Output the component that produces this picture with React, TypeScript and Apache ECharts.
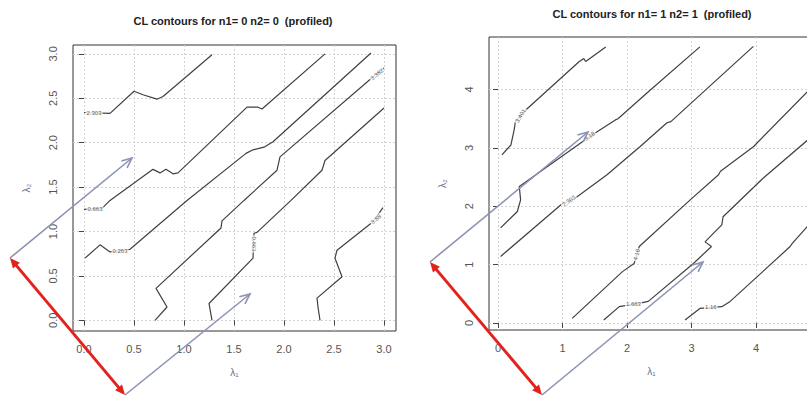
import React, { useEffect, useRef } from 'react';
import * as echarts from 'echarts';

// ---------- data ----------
const titles = ['CL contours for n1= 0 n2= 0  (profiled)', 'CL contours for n1= 1 n2= 1  (profiled)'];
const leftTicks = [0, 0.5, 1, 1.5, 2, 2.5, 3];
const rightTicks = [0, 1, 2, 3, 4];

// left panel contours (lambda1, lambda2)
const leftA = [[0, 2.34], [0.26, 2.33], [0.5, 2.58], [0.59, 2.54], [0.73, 2.49], [0.79, 2.52], [1.28, 2.99]];
const leftB = [[0, 1.25], [0.18, 1.26], [0.26, 1.35], [0.69, 1.7], [0.76, 1.66], [0.82, 1.7], [0.89, 1.65], [0.94, 1.66], [1.63, 2.4], [1.74, 2.4], [1.78, 2.38], [2.41, 3.0]];
const leftC = [[0.01, 0.7], [0.16, 0.85], [0.26, 0.77], [0.46, 0.8], [1.03, 1.35], [1.62, 1.88], [1.69, 1.92], [1.8, 1.95], [1.89, 2.01], [2.87, 3.01]];
const leftD = [[0.71, 0.0], [0.83, 0.15], [0.72, 0.36], [1.37, 1.04], [1.38, 1.12], [1.6, 1.35], [1.93, 1.69], [1.96, 1.84], [2.93, 2.78], [3.0, 2.84]];
const leftE = [[1.28, 0.0], [1.25, 0.19], [1.69, 0.7], [1.7, 0.98], [1.73, 0.99], [2.07, 1.35], [2.38, 1.69], [2.41, 1.8], [3.0, 2.39]];
const leftF = [[2.36, 0.0], [2.34, 0.15], [2.33, 0.25], [2.58, 0.49], [2.51, 0.7], [2.53, 0.79], [2.89, 1.11], [2.99, 1.27]];

// right panel contours
const rightA = [[0.06, 2.88], [0.2, 3.05], [0.25, 3.31], [0.27, 3.45], [0.43, 3.65], [1.26, 4.48], [1.33, 4.53], [1.36, 4.48], [1.67, 4.73]];
const rightB = [[0.04, 1.63], [0.3, 1.91], [0.35, 2.11], [0.33, 2.34], [1.44, 3.21], [1.82, 3.48], [1.86, 3.5], [2.34, 3.97], [3.13, 4.73]];
const rightC = [[0.04, 1.14], [0.99, 2.04], [1.2, 2.14], [1.69, 2.54], [2.2, 3.02], [2.62, 3.43], [2.68, 3.45], [3.96, 4.74]];
const rightD = [[1.15, 0.08], [1.93, 0.88], [2.11, 1.02], [2.19, 1.31], [2.98, 2.11], [3.42, 2.54], [3.45, 2.6], [3.96, 3.02], [4.85, 4.02]];
const rightE = [[1.64, 0.05], [1.88, 0.28], [2.2, 0.34], [2.33, 0.37], [3.03, 1.02], [3.31, 1.31], [3.21, 1.39], [3.29, 1.48], [3.47, 1.68], [3.49, 1.82], [4.11, 2.48], [4.85, 3.18]];
const rightF = [[2.9, 0.05], [3.13, 0.25], [3.47, 0.28], [3.6, 0.37], [4.53, 1.31], [4.56, 1.36], [4.85, 1.72]];

// contour labels [x, y, text]
const leftLabels: [number, number, string][] = [
  [0.1, 2.33, '2.303'], [0.11, 1.25, '0.663'], [0.36, 0.78, '0.263'],
  [2.93, 2.77, '3.382'], [1.7, 0.86, '0.663'], [2.92, 1.14, '3.88'],
];
const leftLabelRot = [0, 0, 0, 40, -90, 40];
const rightLabels: [number, number, string][] = [
  [0.35, 3.55, '3.401'], [1.42, 3.2, '3.18'], [1.1, 2.09, '2.303'],
  [2.15, 1.17, '4.18'], [2.1, 0.32, '1.663'], [3.3, 0.27, '1.16'],
];
const rightLabelRot = [60, 35, 35, 75, 0, 0];

// annotation arrows (overlay, pixel space)
const grayArrows = [
  [10, 258, 132, 158], [125, 395, 250, 294],
  [430, 262, 588, 132], [542, 395, 703, 262],
];
const redArrows = [
  [10, 258, 125, 395],
  [430, 262, 542, 395],
];

const FONT = '"Liberation Sans", Arial, sans-serif';
const GRAY = '#8c92b4';
const RED = '#e2231c';

function openHead(x1: number, y1: number, x2: number, y2: number, len = 11, ang = 0.42) {
  const a = Math.atan2(y2 - y1, x2 - x1);
  return [
    [x2 - len * Math.cos(a - ang), y2 - len * Math.sin(a - ang)],
    [x2, y2],
    [x2 - len * Math.cos(a + ang), y2 - len * Math.sin(a + ang)],
  ];
}
function filledHead(x1: number, y1: number, x2: number, y2: number, len = 10, half = 4.5) {
  const a = Math.atan2(y2 - y1, x2 - x1);
  const bx = x2 - len * Math.cos(a);
  const by = y2 - len * Math.sin(a);
  const nx = -Math.sin(a);
  const ny = Math.cos(a);
  return [[x2, y2], [bx + nx * half, by + ny * half], [bx - nx * half, by - ny * half]];
}

function buildGraphic() {
  const els: any[] = [];
  els.push({ type: 'text', x: 233, y: 15, z: 50, style: { text: titles[0], font: `bold 11px ${FONT}`, fill: '#222', textAlign: 'center' } });
  els.push({ type: 'text', x: 652, y: 8, z: 50, style: { text: titles[1], font: `bold 11px ${FONT}`, fill: '#222', textAlign: 'center' } });
  grayArrows.forEach(([x1, y1, x2, y2]) => {
    els.push({ type: 'line', z: 100, shape: { x1, y1, x2, y2 }, style: { stroke: GRAY, lineWidth: 1.6 } });
    els.push({ type: 'polyline', z: 100, shape: { points: openHead(x1, y1, x2, y2) }, style: { stroke: GRAY, lineWidth: 1.6, fill: null } });
  });
  redArrows.forEach(([x1, y1, x2, y2]) => {
    const a = Math.atan2(y2 - y1, x2 - x1);
    const s = 8;
    els.push({
      type: 'line', z: 101,
      shape: { x1: x1 + s * Math.cos(a), y1: y1 + s * Math.sin(a), x2: x2 - s * Math.cos(a), y2: y2 - s * Math.sin(a) },
      style: { stroke: RED, lineWidth: 3 },
    });
    els.push({ type: 'polygon', z: 101, shape: { points: filledHead(x1, y1, x2, y2) }, style: { fill: RED } });
    els.push({ type: 'polygon', z: 101, shape: { points: filledHead(x2, y2, x1, y1) }, style: { fill: RED } });
  });
  return els;
}

function axis(gi: number, min: number, max: number, ticks: number[], fmt: (v: number) => string, isY: boolean, name: string, gap: number) {
  return {
    type: 'value', gridIndex: gi, min, max,
    axisLine: { show: false },
    axisTick: { show: true, length: 5, inside: false, lineStyle: { color: '#444', width: 1 }, customValues: ticks },
    axisLabel: {
      customValues: ticks, formatter: (v: number) => fmt(v), margin: isY ? 15 : 12, color: '#555',
      fontSize: 11, fontFamily: FONT, rotate: isY ? 90 : 0,
    },
    splitLine: { show: true, lineStyle: { color: '#d2d2d2', type: [2, 2], width: 1 } },
    name, nameLocation: 'middle', nameGap: gap,
    nameTextStyle: { color: '#6a6f8a', fontSize: 10, fontFamily: FONT },
  };
}

function lineSeries(data: number[][], gi: number) {
  return {
    type: 'line', xAxisIndex: gi, yAxisIndex: gi, data, showSymbol: false, symbol: 'none',
    lineStyle: { color: '#404040', width: 1.2 }, z: 3, silent: true,
  };
}

function labelSeries(labels: [number, number, string][], rots: number[], gi: number) {
  return {
    type: 'scatter', xAxisIndex: gi, yAxisIndex: gi, symbolSize: 0, z: 4, silent: true,
    data: labels.map(([x, y, t], i) => ({
      value: [x, y],
      label: {
        show: true, formatter: t, rotate: rots[i], position: 'inside',
        fontSize: 6, color: '#333', fontFamily: FONT, backgroundColor: '#fff', padding: [0, 1],
      },
    })),
  };
}

export default function App() {
  const ref = useRef<HTMLDivElement>(null);
  useEffect(() => {
    if (!ref.current) return;
    const chart = echarts.init(ref.current, undefined, { renderer: 'svg' });
    const f1 = (v: number) => v.toFixed(1);
    const f0 = (v: number) => String(Math.round(v));
    chart.setOption({
      animation: false,
      backgroundColor: '#fff',
      grid: [
        { left: 73, top: 45, width: 323, height: 286, show: true, borderColor: '#333', borderWidth: 1, backgroundColor: 'transparent', containLabel: false, outerBoundsMode: 'none' },
        { left: 489, top: 37, width: 325, height: 293, show: true, borderColor: '#333', borderWidth: 1, backgroundColor: 'transparent', containLabel: false, outerBoundsMode: 'none' },
      ],
      xAxis: [
        axis(0, -0.11, 3.12, leftTicks, f1, false, 'λ₁', 36),
        axis(1, -0.14, 4.9, rightTicks, f0, false, 'λ₁', 36),
      ],
      yAxis: [
        axis(0, -0.12, 3.1, leftTicks, f1, true, 'λ₂', 42),
        axis(1, -0.12, 4.9, rightTicks, f0, true, 'λ₂', 42),
      ],
      series: [
        ...[leftA, leftB, leftC, leftD, leftE, leftF].map((d) => lineSeries(d, 0)),
        ...[rightA, rightB, rightC, rightD, rightE, rightF].map((d) => lineSeries(d, 1)),
        labelSeries(leftLabels, leftLabelRot, 0),
        labelSeries(rightLabels, rightLabelRot, 1),
      ],
      graphic: buildGraphic(),
    });
    return () => chart.dispose();
  }, []);
  return <div ref={ref} style={{ position: 'fixed', left: 0, top: 0, width: 807, height: 398, overflow: 'hidden' }} />;
}
